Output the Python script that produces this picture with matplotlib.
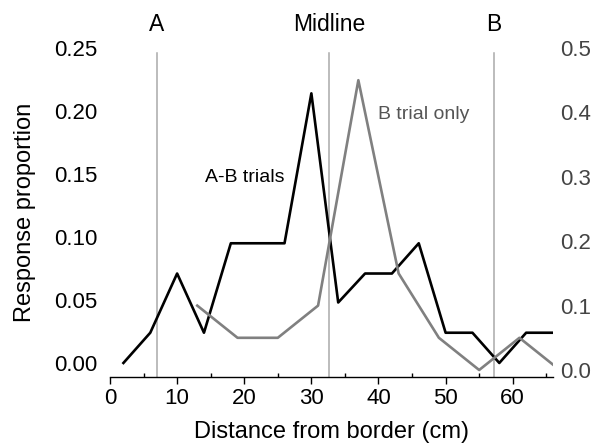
import matplotlib.pyplot as plt
import numpy as np

plt.rcParams['font.family'] = ['Liberation Sans', 'DejaVu Sans']

# A-B trials (left axis)
ab_dist = [2, 6, 10, 14, 18, 22, 26, 30, 34, 38, 42, 46, 50, 54, 58, 62, 66]
ab_prop = [0.0, 0.024, 0.071, 0.024, 0.095, 0.095, 0.095, 0.214, 0.048,
           0.071, 0.071, 0.095, 0.024, 0.024, 0.0, 0.024, 0.024]

# B trial only (right axis)
b_dist = [13, 19, 25, 31, 37, 43, 49, 55, 61, 67]
b_prop = [0.10, 0.05, 0.05, 0.10, 0.45, 0.15, 0.05, 0.0, 0.05, 0.0]

# reference lines
marker_x = [7, 32.7, 57.2]
marker_labels = ['A', 'Midline', 'B']

fig = plt.figure(figsize=(5.92, 4.44), dpi=100)
ax = fig.add_axes([110 / 592, 67.3 / 444, 443 / 592, 328.7 / 444])
ax2 = ax.twinx()

for xv, lab in zip(marker_x, marker_labels):
    ax.axvline(xv, ymin=0, ymax=0.985, color='#aaaaaa', lw=1.1, zorder=1)
    ax.text(xv, 1.073, lab, transform=ax.get_xaxis_transform(),
            ha='center', va='center', fontsize=16.5)

ax.plot(ab_dist, ab_prop, color='black', lw=1.9, zorder=3)
ax2.plot(b_dist, b_prop, color='#808080', lw=1.9, zorder=3)

ax.set_xlim(0, 66)
ax.set_ylim(-0.0109, 0.25)
ax2.set_ylim(-0.0104, 0.5)

ax.set_xticks(np.arange(0, 61, 10))
ax.set_xticks(np.arange(5, 66, 10), minor=True)
ax.set_yticks([0, 0.05, 0.10, 0.15, 0.20, 0.25])
ax.set_yticklabels(['0.00', '0.05', '0.10', '0.15', '0.20', '0.25'])
ax2.set_yticks([0, 0.1, 0.2, 0.3, 0.4, 0.5])
ax2.set_yticklabels(['0.0', '0.1', '0.2', '0.3', '0.4', '0.5'])

for a in (ax, ax2):
    for s in ('top', 'left', 'right'):
        a.spines[s].set_visible(False)
ax2.spines['bottom'].set_visible(False)
ax.spines['bottom'].set_linewidth(1.0)

ax.tick_params(axis='x', which='major', direction='out', length=5, width=1,
               labelsize=16, pad=3)
ax.tick_params(axis='x', which='minor', direction='in', length=3, width=1)
ax.tick_params(axis='y', length=0, labelsize=16, pad=9)
ax2.tick_params(axis='y', length=0, labelsize=16, pad=5, labelcolor='#444444')

ax.set_xlabel('Distance from border (cm)', fontsize=17, labelpad=9)
ax.set_ylabel('Response proportion', fontsize=17, labelpad=13)

ax.text(20.1, 0.147, 'A-B trials', fontsize=14, ha='center', va='center')
ax2.text(40.0, 0.396, 'B trial only', fontsize=14, color='#555555',
         ha='left', va='center')

fig.savefig('out.png', dpi=100)
